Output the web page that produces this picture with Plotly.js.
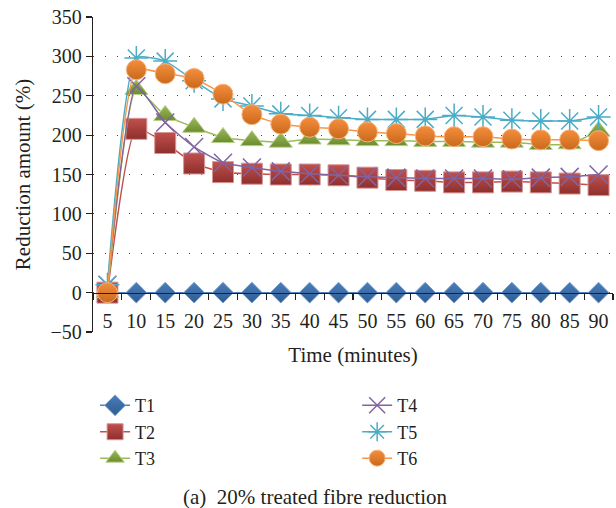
<!DOCTYPE html>
<html>
<head>
<meta charset="utf-8">
<script src="https://cdn.plot.ly/plotly-3.0.1.min.js"></script>
<style>html,body{margin:0;padding:0;background:#fff;}#chart{width:616px;height:508px;}</style>
</head>
<body>
<div id="chart"></div>
<script>
var times = ["5","10","15","20","25","30","35","40","45","50","55","60","65","70","75","80","85","90"];
var T1 = [0,0,0,0,0,0,0,0,0,0,0,0,0,0,0,0,0,0];
var T2 = [0,208,190,164,153,151,150,150,149,146,143,142,140,140,141,140,138.5,136.5];
var T3 = [0,258,225,210,197,193,191,195,194,193,193,192,192,191,191,188,189,205];
var T4 = [10,262,216,185,165,159,154,151,149,147,146,145,145,145,144,146,147,150];
var T5 = [10,298,294,269,246,237,227,225,222,220,220,220,225,223,219,218,218,223];
var T6 = [0,283,278,272,252,226,214,210,208,204,202,199,198,198,195,194,194,193];
var yTicks = [-50,0,50,100,150,200,250,300,350];

var serif = "Liberation Serif, Times New Roman, serif";
function tr(name, y, lineColor, sym, size, fill, grad, edge, legend) {
  var m = {symbol: sym, size: size, color: fill, line: {color: edge, width: 1}};
  if (grad) m.gradient = {type: "vertical", color: grad};
  return {x: times, y: y, name: name, type: "scatter", mode: "lines+markers",
    line: {color: lineColor, width: 1.5, shape: "spline", smoothing: 0.5},
    marker: m, legend: legend};
}
var data = [
  tr("T1", T1, "#4F81BD", "diamond", 16, "#4A7EBB", "#2E5B91", "#7FA3D0", "legend"),
  tr("T2", T2, "#C0504D", "square", 21, "#C0504D", "#8E2F2C", "#D99594", "legend"),
  tr("T3", T3, "#9BBB59", "triangle-up", 20, "#9BBB59", "#6B8B2F", "#B8D08A", "legend"),
  tr("T4", T4, "#8064A2", "x-thin-open", 18, "#8064A2", null, "#8064A2", "legend2"),
  tr("T5", T5, "#4BACC6", "asterisk-open", 20, "#4BACC6", null, "#4BACC6", "legend2"),
  tr("T6", T6, "#F79646", "circle", 20, "#F58E3E", "#C9691B", "#F9B27A", "legend2")
];
data[3].marker.line.width = 1.5;
data[4].marker.line.width = 1.5;

var layout = {
  width: 616, height: 508,
  margin: {l: 93, r: 3, t: 17, b: 176},
  paper_bgcolor: "#fff", plot_bgcolor: "#fff",
  font: {family: serif, size: 20, color: "#231F20"},
  showlegend: true,
  xaxis: {
    type: "category", range: [-0.5, 17.5],
    anchor: "free", position: 0.125,
    showline: true, linecolor: "#231F20", linewidth: 1.2,
    ticks: "outside", tickson: "boundaries", ticklen: 6, tickcolor: "#231F20", tickwidth: 1.2,
    ticklabelstandoff: 10, tickangle: 0,
    showgrid: false, zeroline: false,
    tickfont: {family: serif, size: 20, color: "#231F20"},
    title: {text: "Time (minutes)", font: {family: serif, size: 21, color: "#231F20"}, standoff: 16}
  },
  yaxis: {
    range: [-50, 350], tickvals: yTicks,
    showline: true, linecolor: "#231F20", linewidth: 1.2,
    ticks: "outside", ticklen: 6, tickcolor: "#231F20", tickwidth: 1.2,
    showgrid: true, gridcolor: "#444", gridwidth: 1, griddash: "1.2px,10.8px",
    zeroline: false,
    tickfont: {family: serif, size: 20, color: "#231F20"},
    title: {text: "Reduction amount (%)", font: {family: serif, size: 21, color: "#231F20"}, standoff: 14}
  },
  legend: {x: 0.004, xanchor: "left", y: -0.175, yanchor: "top", orientation: "v",
    font: {family: serif, size: 18, color: "#231F20"}, bgcolor: "rgba(0,0,0,0)", tracegroupgap: 0},
  legend2: {x: 0.508, xanchor: "left", y: -0.175, yanchor: "top", orientation: "v",
    font: {family: serif, size: 18, color: "#231F20"}, bgcolor: "rgba(0,0,0,0)", tracegroupgap: 0},
  annotations: [{
    text: "(a)  20% treated fibre reduction", xref: "paper", yref: "paper",
    x: 0.428, y: -0.524, xanchor: "center", yanchor: "middle", showarrow: false,
    font: {family: serif, size: 21, color: "#231F20"}
  }]
};
Plotly.newPlot("chart", data, layout, {displayModeBar: false, staticPlot: true});
</script>
</body>
</html>
